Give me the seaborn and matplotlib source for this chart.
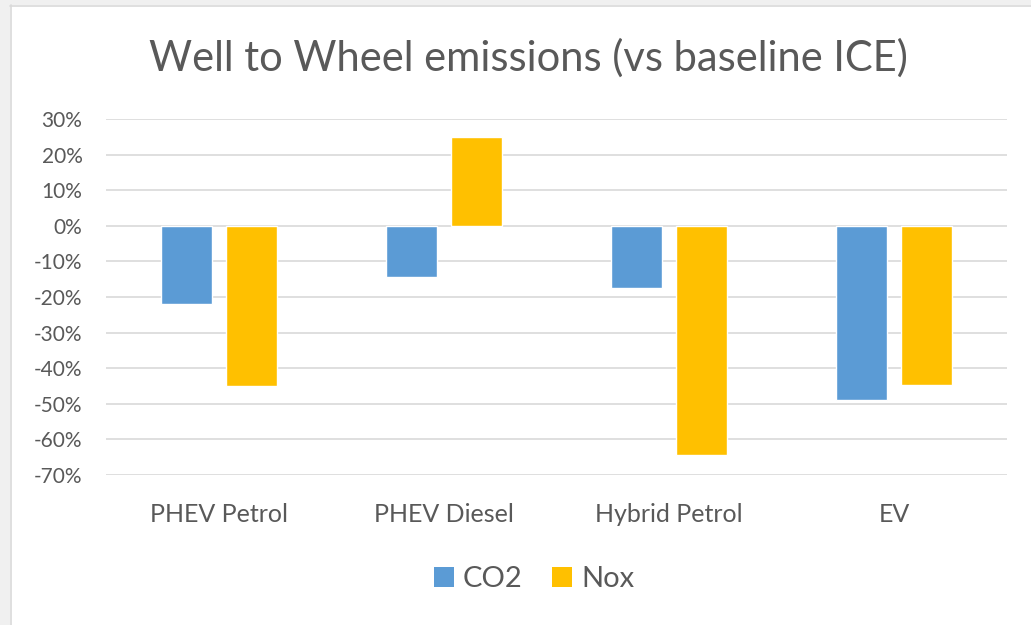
import matplotlib
matplotlib.use("Agg")
import matplotlib.pyplot as plt
import matplotlib.ticker as mticker
from matplotlib.patches import Rectangle, Patch
import seaborn as sns
import pandas as pd

categories = ["PHEV Petrol", "PHEV Diesel", "Hybrid Petrol", "EV"]
series = ["CO2", "Nox"]
co2 = [-0.22, -0.145, -0.175, -0.49]
nox = [-0.45, 0.25, -0.645, -0.447]
colors = ["#5B9BD5", "#FFC000"]

df = pd.DataFrame({
    "category": categories * 2,
    "series": [series[0]] * 4 + [series[1]] * 4,
    "value": co2 + nox,
})

sns.set_theme(style="white")
plt.rcParams['font.family'] = ['Lato', 'DejaVu Sans']

W, H = 1031, 625
fig = plt.figure(figsize=(W / 100, H / 100), dpi=100, facecolor="white")

# outer gray frame (left and top strips)
fig.patches.append(Rectangle((0, 0), 10 / W, 1, transform=fig.transFigure,
                             facecolor="#f0f0f0", edgecolor="none", zorder=0))
fig.patches.append(Rectangle((0, 1 - 5 / H), 1, 5 / H, transform=fig.transFigure,
                             facecolor="#f0f0f0", edgecolor="none", zorder=0))
fig.lines.append(plt.Line2D([10.5 / W, 10.5 / W], [0, 1 - 5 / H], transform=fig.transFigure,
                            color="#d9d9d9", lw=1.2))
fig.lines.append(plt.Line2D([10 / W, 1], [1 - 5.5 / H, 1 - 5.5 / H], transform=fig.transFigure,
                            color="#d9d9d9", lw=1.2))

ax = fig.add_axes([106 / W, 1 - 475 / H, (1007 - 106) / W, (475 - 119) / H])
sns.barplot(data=df, x="category", y="value", hue="series", palette=colors,
            width=0.578, gap=0.215, ax=ax, legend=False, saturation=1)

ax.set_ylim(-0.7, 0.3)
ax.set_xlim(-0.5, 3.5)
ax.yaxis.set_major_locator(mticker.MultipleLocator(0.1))
ax.yaxis.set_major_formatter(mticker.FuncFormatter(lambda v, p: f"{round(v * 100):d}%"))
ax.grid(axis="y", color="#d9d9d9", lw=1.2)
ax.set_axisbelow(True)
for s in ax.spines.values():
    s.set_visible(False)
ax.set_xlabel("")
ax.set_ylabel("")
ax.tick_params(axis="y", length=0, pad=17, labelsize=15, labelcolor="#595959")
ax.tick_params(axis="x", length=0, pad=20, labelsize=18, labelcolor="#595959")

fig.text(528 / W, 1 - 58 / H, "Well to Wheel emissions (vs baseline ICE)",
         ha="center", va="center", fontsize=30, color="#595959")

handles = [Patch(facecolor=c, edgecolor="none") for c in colors]
fig.legend(handles, series, loc="center", bbox_to_anchor=(534 / W, 1 - 579 / H),
           ncol=2, frameon=False, fontsize=21, labelcolor="#595959",
           handlelength=0.7, handleheight=0.7, handletextpad=0.3, columnspacing=1.0)

fig.savefig("out.png", dpi=100, facecolor="white")
